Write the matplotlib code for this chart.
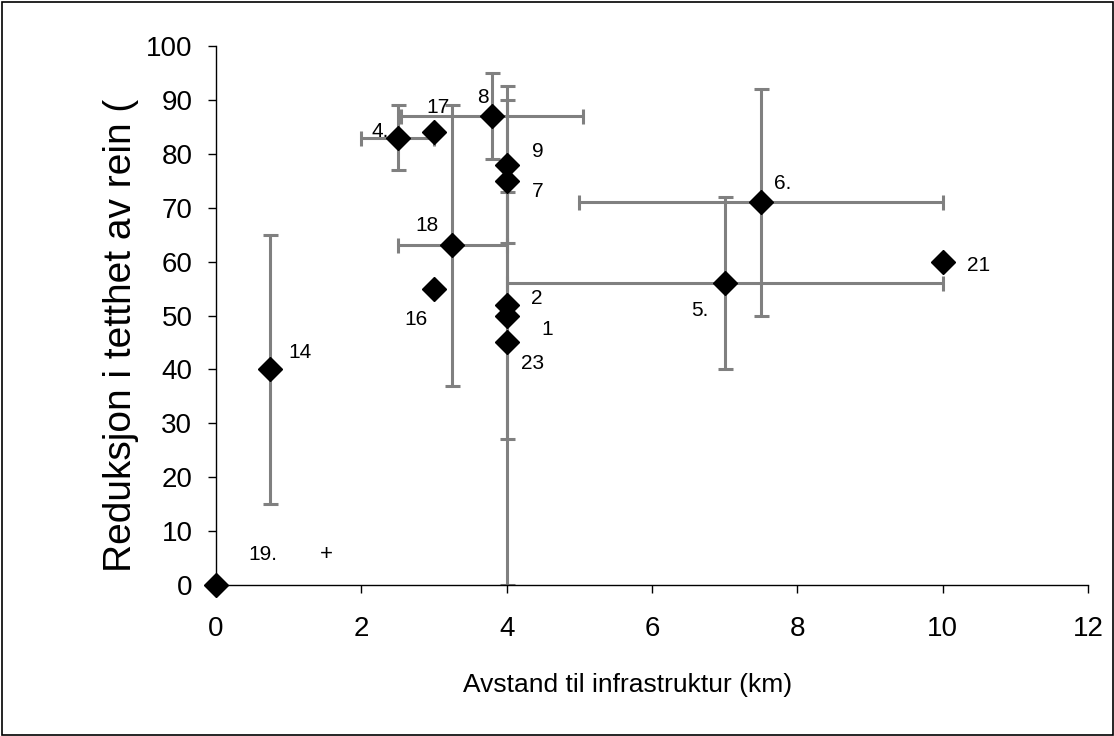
import numpy as np
import matplotlib
matplotlib.use("Agg")
import matplotlib.pyplot as plt
from matplotlib.patches import Rectangle

# ---- data ----
labels = ["1", "2", "4.", "5.", "6.", "7", "8", "9", "14", "16", "17", "18", "19.", "21", "23"]
x_km   = [4.0, 4.0, 2.5, 7.0, 7.5, 4.0, 3.8, 4.0, 0.75, 3.0, 3.0, 3.25, 0.0, 10.0, 4.0]
y_red  = [50, 52, 83, 56, 71, 75, 87, 78, 40, 55, 84, 63, 0, 60, 45]
x_err  = [np.nan, np.nan, 0.5, 3.0, 2.5, np.nan, 1.25, np.nan, np.nan, np.nan, np.nan, 0.75, np.nan, np.nan, np.nan]
y_err  = [23, np.nan, 6, 16, 21, np.nan, 8, 14.5, 25, np.nan, np.nan, 26, np.nan, np.nan, 45]
extra_mark = "+"
x_ticks = [0, 2, 4, 6, 8, 10, 12]
y_ticks = [0, 10, 20, 30, 40, 50, 60, 70, 80, 90, 100]
xlabel = "Avstand til infrastruktur (km)"
ylabel = "Reduksjon i tetthet av rein (%)"

# label offsets in pixels (layout)
label_off = {
    "1": (41, -14), "2": (30, 6), "4.": (-17, 6), "5.": (-25, -27),
    "6.": (22, 19), "7": (31, -11), "8": (-9, 19), "9": (31, 13),
    "14": (30, 17), "16": (-18, -31), "17": (4, 25), "18": (-25, 20),
    "19.": (47, 30), "21": (36, -4), "23": (26, -21),
}
extra_off = (110, 30)

plt.rcParams['font.family'] = ['Liberation Sans', 'DejaVu Sans']

W, H = 1114, 736
fig = plt.figure(figsize=(W / 100, H / 100), dpi=100)
ax = fig.add_axes([216 / W, 1 - 585 / H, (1088 - 216) / W, (585 - 46) / H])

ax.errorbar(x_km, y_red, xerr=np.array(x_err), yerr=np.array(y_err), fmt='none',
            ecolor='#808080', elinewidth=2.2, capsize=5.4, capthick=2.2, zorder=2)
ax.plot(x_km, y_red, linestyle='none', marker='D', markersize=12,
        color='black', zorder=3, clip_on=False)

for lab, xx, yy in zip(labels, x_km, y_red):
    dx, dy = label_off[lab]
    ax.annotate(lab, (xx, yy), xytext=(dx, dy), textcoords='offset pixels',
                ha='center', va='center', fontsize=15, color='black', zorder=4)

ax.annotate(extra_mark, (x_km[labels.index("19.")], y_red[labels.index("19.")]),
            xytext=extra_off, textcoords='offset pixels', ha='center', va='center',
            fontsize=16, color='black')

ax.set_xlim(0, 12)
ax.set_ylim(0, 100)
ax.set_xticks(x_ticks)
ax.set_yticks(y_ticks)
ax.set_xticklabels([str(t) for t in x_ticks])
ax.set_yticklabels([str(t) for t in y_ticks])
ax.tick_params(axis='both', direction='out', length=6, width=1, labelsize=20, colors='black')
ax.tick_params(axis='x', pad=16)
ax.tick_params(axis='y', pad=11)
for s in ['top', 'right']:
    ax.spines[s].set_visible(False)
for s in ['left', 'bottom']:
    ax.spines[s].set_linewidth(1.0)
    ax.spines[s].set_color('black')

fig.text(628 / W, 1 - 692 / H, xlabel, ha='center', va='baseline', fontsize=19)

fig.text(131 / W, 1 - 572 / H, ylabel, rotation=90, rotation_mode='anchor',
         ha='left', va='baseline', fontsize=28, zorder=5)
# the reference chart cuts the y-axis title off at its top
fig.add_artist(Rectangle((85 / W, 1 - 100 / H), 60 / W, (100 - 4) / H,
                         transform=fig.transFigure, facecolor='white',
                         edgecolor='none', zorder=6))

fig.add_artist(Rectangle((1.5 / W, 1.5 / H), (W - 3) / W, (H - 3) / H,
                         transform=fig.transFigure, fill=False,
                         edgecolor='black', linewidth=1.2, zorder=7))

fig.savefig("out.png", dpi=100)
